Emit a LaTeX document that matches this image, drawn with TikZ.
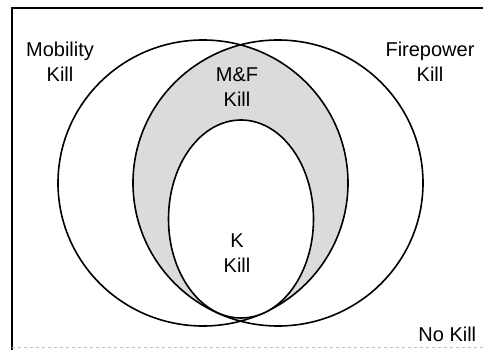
\documentclass[tikz,border=0pt]{standalone}
\usepackage{fontspec}
\setmainfont{Liberation Sans}
\begin{document}
\begin{tikzpicture}[x=1pt,y=-1pt]
\useasboundingbox (0,0) rectangle (483,350);

% Frame of the kill space
\draw[line width=1.8pt] (12,350) -- (12,8) -- (483,8);
\draw[gray!50,dashed,line width=0.8pt] (12,347) -- (483,347);

% Shade the overlap of mobility and firepower kills
\begin{scope}
  \clip (203,183) ellipse (145pt and 143pt);
  \fill[gray!28] (278,183) ellipse (145pt and 143pt);
\end{scope}

% Draw the kill regions
\tikzstyle{every path}=[line width=1.6pt];
\draw (203,183) ellipse (145pt and 143pt);
\draw (278,183) ellipse (145pt and 143pt);
\draw[fill=white] (241,219) ellipse (72.5pt and 99pt);

% Labels of the regions
\tikzstyle{every node}=[align=center,inner sep=0pt,font=\fontsize{20}{25}\selectfont];
\node (mob) at (60,62) {Mobility\\Kill};
\node (fire) at (430,62) {Firepower\\Kill};
\node (mf) at (237,87) {M\&F\\Kill};
\node (k) at (237,253) {K\\Kill};
\node[anchor=base east] (none) at (477,342) {No Kill};

\end{tikzpicture}
\end{document}
